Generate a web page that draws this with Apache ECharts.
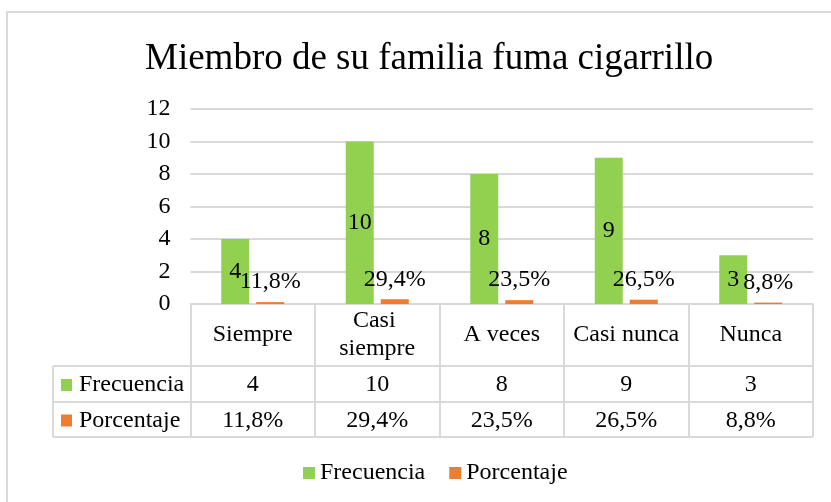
<!DOCTYPE html>
<html><head><meta charset="utf-8">
<script src="https://cdn.jsdelivr.net/npm/echarts@6/dist/echarts.min.js"></script>
<style>html,body{margin:0;padding:0;background:#fff}#c{width:831px;height:502px}</style>
</head><body><div id="c"></div>
<script>
const categories = ['Siempre', 'Casi siempre', 'A veces', 'Casi nunca', 'Nunca'];
const frecuencia = [4, 10, 8, 9, 3];
const porcentaje = [0.118, 0.294, 0.235, 0.265, 0.088];
const seriesNames = ['Frecuencia', 'Porcentaje'];
const yTicks = [0, 2, 4, 6, 8, 10, 12];
const titleText = 'Miembro de su familia fuma cigarrillo';

const colors = ['#92D050', '#ED7D31'];
const FONT = 'Liberation Serif';
const LINE = '#d9d9d9';
const fmtPct = v => (v * 100).toFixed(1).replace('.', ',') + '%';

const W = 831, H = 502;
const G = { left: 190.5, right: 18, top: 109, bottom: 198 };
const headerH = 62, rowH = [36, 35];
const tableLeft = 53;

const chart = echarts.init(document.getElementById('c'), null, { renderer: 'canvas' });

const option = {
  backgroundColor: '#fff',
  animation: false,
  title: {
    text: titleText, left: 140, top: 36,
    textStyle: { fontFamily: FONT, fontSize: 37, fontWeight: 'normal', color: '#000' }
  },
  legend: {
    data: seriesNames, left: 298, top: 456, icon: 'rect', itemWidth: 12, itemHeight: 12, itemGap: 24,
    textStyle: { fontFamily: FONT, fontSize: 24, color: '#000' }
  },
  grid: { left: G.left, right: G.right, top: G.top, bottom: G.bottom },
  xAxis: {
    type: 'category', data: categories,
    axisLine: { show: true, lineStyle: { color: LINE, width: 2 } },
    axisTick: { show: true, length: headerH + rowH[0] + rowH[1], lineStyle: { color: LINE, width: 2 } },
    axisLabel: {
      fontFamily: FONT, fontSize: 24, color: '#000', margin: headerH / 2, verticalAlign: 'middle',
      lineHeight: 28, width: 112, overflow: 'break', interval: 0
    }
  },
  yAxis: {
    type: 'value', min: yTicks[0], max: yTicks[yTicks.length - 1], interval: yTicks[1] - yTicks[0],
    axisLine: { show: false }, axisTick: { show: false },
    splitLine: { lineStyle: { color: LINE, width: 2 } },
    axisLabel: { fontFamily: FONT, fontSize: 24, color: '#000', margin: 20, padding: [3, 0, 0, 0] }
  },
  series: [
    {
      name: seriesNames[0], type: 'bar', data: frecuencia, barWidth: 28, barGap: '25%',
      itemStyle: { color: colors[0] },
      label: { show: true, position: 'inside', fontFamily: FONT, fontSize: 24, color: '#000' }
    },
    {
      name: seriesNames[1], type: 'bar', data: porcentaje, barWidth: 28,
      itemStyle: { color: colors[1] },
      label: { show: true, position: 'top', distance: 8, fontFamily: FONT, fontSize: 24, color: '#000',
        formatter: p => fmtPct(p.value) }
    }
  ]
};
chart.setOption(option);

function buildTable() {
  const baseY = H - G.bottom;
  const right = W - G.right;
  const r1Top = baseY + headerH, r2Top = r1Top + rowH[0], r2Bot = r2Top + rowH[1];
  const rowCenters = [r1Top + rowH[0] / 2 + 1, r2Top + rowH[1] / 2 + 1];
  const rows = [frecuencia.map(v => String(v)), porcentaje.map(fmtPct)];
  const txt = (t, x, y, align) => ({ type: 'text', silent: true, x: x, y: y,
    style: { text: t, fontFamily: FONT, fontSize: 24, fill: '#000', align: align, verticalAlign: 'middle' } });
  const els = [];
  els.push({ type: 'rect', silent: true, shape: { x: 7, y: 12, width: 900, height: 600 },
    style: { fill: 'none', stroke: LINE, lineWidth: 2 } });
  [r1Top, r2Top, r2Bot].forEach(y => els.push({ type: 'line', silent: true,
    shape: { x1: tableLeft, y1: y, x2: right, y2: y }, style: { stroke: LINE, lineWidth: 2 } }));
  els.push({ type: 'line', silent: true, shape: { x1: tableLeft, y1: r1Top, x2: tableLeft, y2: r2Bot },
    style: { stroke: LINE, lineWidth: 2 } });
  rows.forEach((row, ri) => {
    els.push({ type: 'rect', silent: true, shape: { x: 61, y: rowCenters[ri] - 6, width: 11, height: 12 },
      style: { fill: colors[ri] } });
    els.push(txt(seriesNames[ri], 79, rowCenters[ri], 'left'));
    row.forEach((t, ci) => {
      const x = chart.convertToPixel({ xAxisIndex: 0 }, ci);
      els.push(txt(t, x, rowCenters[ri], 'center'));
    });
  });
  chart.setOption({ graphic: { elements: els } });
}
buildTable();
</script>
</body></html>
